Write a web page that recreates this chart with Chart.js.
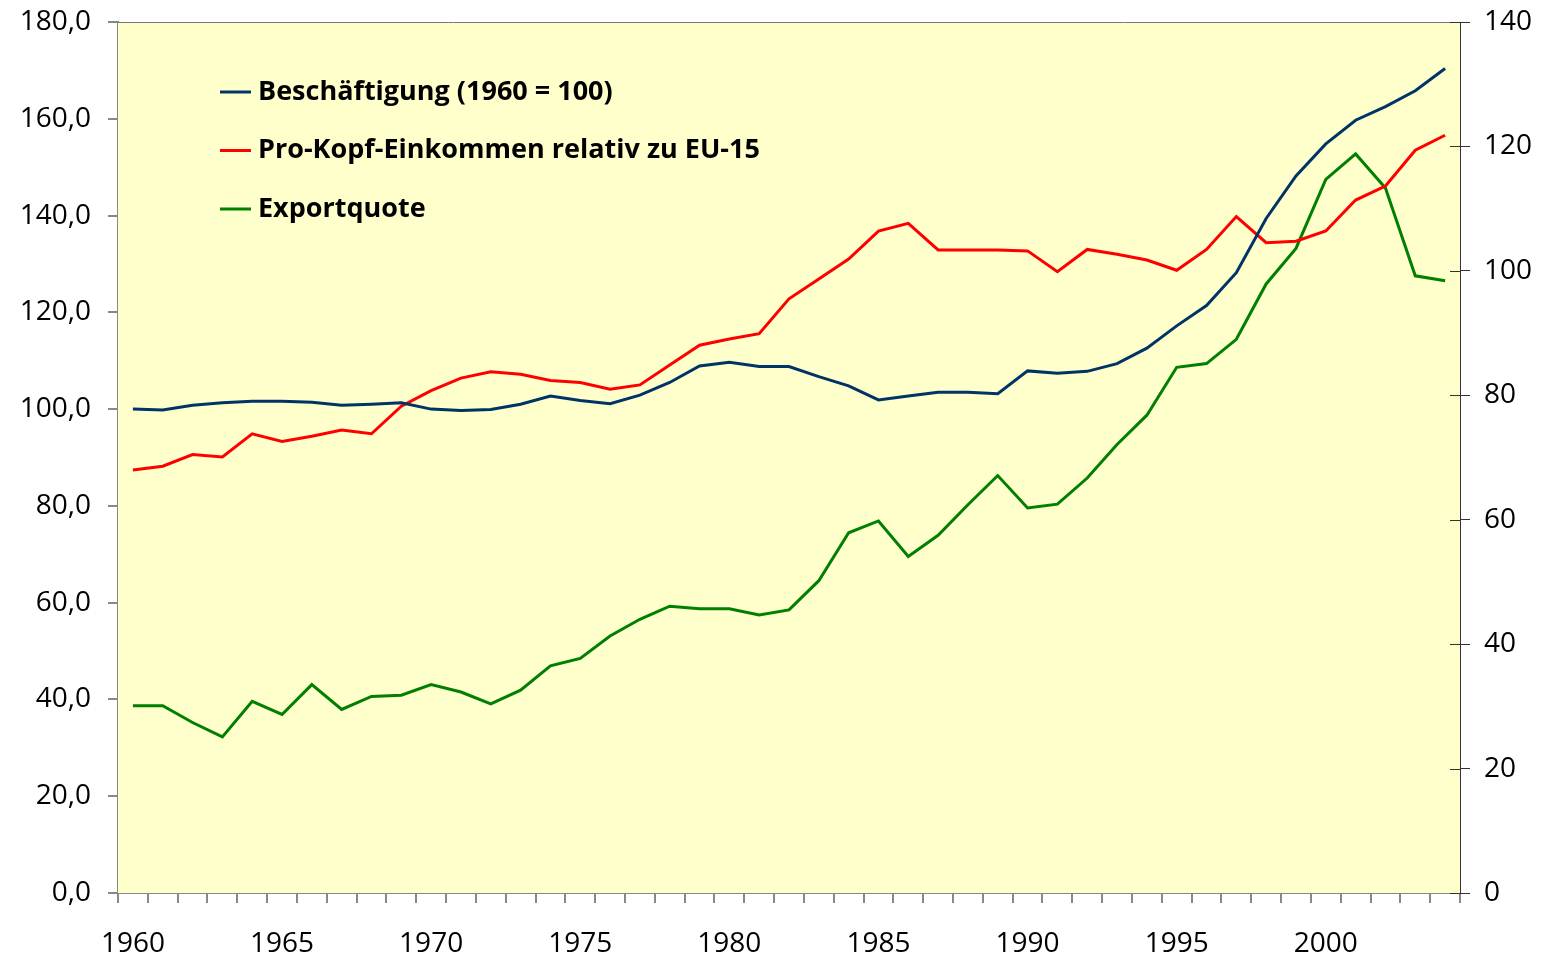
<!DOCTYPE html>
<html>
<head>
<meta charset="utf-8">
<script src="https://cdn.jsdelivr.net/npm/chart.js@4.4.1/dist/chart.umd.min.js"></script>
<style>
  html, body { margin: 0; padding: 0; background: #fff; }
  #wrap { width: 1545px; height: 957px; }
</style>
</head>
<body>
<div id="wrap"><canvas id="chart"></canvas></div>
<script>
const years = [];
for (let y = 1960; y <= 2004; y++) years.push(String(y));

// Beschäftigung (1960 = 100), left axis
const beschaeftigung = [
  100.0, 99.8, 100.8, 101.3, 101.6, 101.6, 101.4, 100.8, 101.0, 101.3,
  100.0, 99.7, 99.9, 101.0, 102.7, 101.8, 101.1, 102.9, 105.5, 108.9,
  109.7, 108.8, 108.8, 106.7, 104.8, 101.9, 102.7, 103.5, 103.5, 103.2,
  107.9, 107.4, 107.8, 109.4, 112.6, 117.2, 121.4, 128.2, 139.4, 148.2,
  154.8, 159.7, 162.5, 165.8, 170.4
];

// Pro-Kopf-Einkommen relativ zu EU-15, left axis
const einkommen = [
  87.4, 88.2, 90.6, 90.1, 94.9, 93.3, 94.4, 95.7, 94.9, 100.6,
  103.8, 106.4, 107.7, 107.2, 105.9, 105.5, 104.1, 105.0, 109.1, 113.2,
  114.5, 115.6, 122.8, 126.9, 131.0, 136.8, 138.4, 132.9, 132.9, 132.9,
  132.7, 128.4, 133.0, 132.0, 130.8, 128.7, 133.0, 139.8, 134.4, 134.7,
  136.8, 143.2, 146.1, 153.5, 156.6
];

// Exportquote, right axis
const exportquote = [
  30.1, 30.1, 27.4, 25.1, 30.8, 28.7, 33.5, 29.5, 31.6, 31.8,
  33.5, 32.3, 30.4, 32.6, 36.5, 37.7, 41.3, 44.0, 46.1, 45.7,
  45.7, 44.7, 45.5, 50.2, 57.9, 59.8, 54.1, 57.5, 62.4, 67.1,
  61.9, 62.5, 66.7, 72.1, 76.8, 84.5, 85.1, 89.0, 97.9, 103.6,
  114.7, 118.8, 113.3, 99.2, 98.4
];

const labelFont = { family: "'Open Sans', sans-serif", size: 28 };

// yellow plot background, top border, inner halves of right-axis ticks
const plotBox = {
  id: "plotBox",
  beforeDatasetsDraw(chart) {
    const { ctx, chartArea: a } = chart;
    ctx.save();
    ctx.fillStyle = "#FFFFCC";
    ctx.fillRect(a.left, a.top, a.right - a.left, a.bottom - a.top);
    ctx.restore();
  },
  afterDraw(chart) {
    const { ctx, chartArea: a } = chart;
    ctx.save();
    ctx.strokeStyle = "#777";
    ctx.lineWidth = 1;
    ctx.beginPath();
    ctx.moveTo(a.left, a.top + 0.5);
    ctx.lineTo(a.right, a.top + 0.5);
    ctx.stroke();
    const y2 = chart.scales.y2;
    ctx.strokeStyle = "#333";
    y2.ticks.forEach((t) => {
      const py = Math.round(y2.getPixelForValue(t.value)) + 0.5;
      ctx.beginPath();
      ctx.moveTo(a.right - 10, py);
      ctx.lineTo(a.right, py);
      ctx.stroke();
    });
    ctx.restore();
  },
};

// legend drawn inside the plot, stacked
const innerLegend = {
  id: "innerLegend",
  afterDraw(chart) {
    const { ctx } = chart;
    ctx.save();
    ctx.font = "bold 27px 'Open Sans', sans-serif";
    ctx.textBaseline = "middle";
    chart.data.datasets.forEach((ds, i) => {
      const y = 92 + i * 58.5;
      ctx.strokeStyle = ds.borderColor;
      ctx.lineWidth = 3;
      ctx.beginPath();
      ctx.moveTo(220, y);
      ctx.lineTo(251, y);
      ctx.stroke();
      ctx.fillStyle = "#000";
      ctx.fillText(ds.label, 258, y);
    });
    ctx.restore();
  },
};

const fixY = (w) => (s) => {
  s.width = w;
  s.paddingTop = 0;
  s.paddingBottom = 0;
};

new Chart(document.getElementById("chart"), {
  type: "line",
  data: {
    labels: years,
    datasets: [
      {
        label: "Beschäftigung (1960 = 100)",
        data: beschaeftigung,
        borderColor: "#003366",
        borderWidth: 3,
        pointRadius: 0,
        yAxisID: "y",
      },
      {
        label: "Pro-Kopf-Einkommen relativ zu EU-15",
        data: einkommen,
        borderColor: "#FF0000",
        borderWidth: 3,
        pointRadius: 0,
        yAxisID: "y",
      },
      {
        label: "Exportquote",
        data: exportquote,
        borderColor: "#007F00",
        borderWidth: 3,
        pointRadius: 0,
        yAxisID: "y2",
      },
    ],
  },
  options: {
    responsive: true,
    maintainAspectRatio: false,
    animation: false,
    layout: { padding: { top: 22, left: 0, right: 0, bottom: 0 } },
    plugins: {
      legend: { display: false },
      tooltip: { enabled: false },
    },
    scales: {
      x: {
        offset: true,
        grid: {
          offset: true,
          drawOnChartArea: false,
          tickLength: 10,
          color: "#888",
          lineWidth: 2,
        },
        border: { color: "#888", width: 2 },
        ticks: {
          autoSkip: false,
          maxRotation: 0,
          color: "#000",
          font: labelFont,
          padding: 24,
          callback: (v, i) => (i % 5 === 0 ? years[i] : ""),
        },
        afterFit: (s) => {
          s.height = 64;
          s.paddingLeft = 0;
          s.paddingRight = 0;
        },
      },
      y: {
        position: "left",
        min: 0,
        max: 180,
        grid: {
          drawOnChartArea: false,
          tickLength: 10,
          color: "#888",
          lineWidth: 2,
        },
        border: { color: "#888", width: 2 },
        ticks: {
          stepSize: 20,
          color: "#000",
          font: labelFont,
          padding: 17,
          callback: (v) => v.toFixed(1).replace(".", ","),
        },
        afterFit: fixY(118),
      },
      y2: {
        position: "right",
        min: 0,
        max: 140,
        grid: {
          drawOnChartArea: false,
          tickLength: 10,
          color: "#333",
          lineWidth: 1,
        },
        border: { color: "#333", width: 1 },
        ticks: {
          stepSize: 20,
          color: "#000",
          font: labelFont,
          padding: 14,
        },
        afterFit: fixY(85),
      },
    },
  },
  plugins: [plotBox, innerLegend],
});
</script>
</body>
</html>
